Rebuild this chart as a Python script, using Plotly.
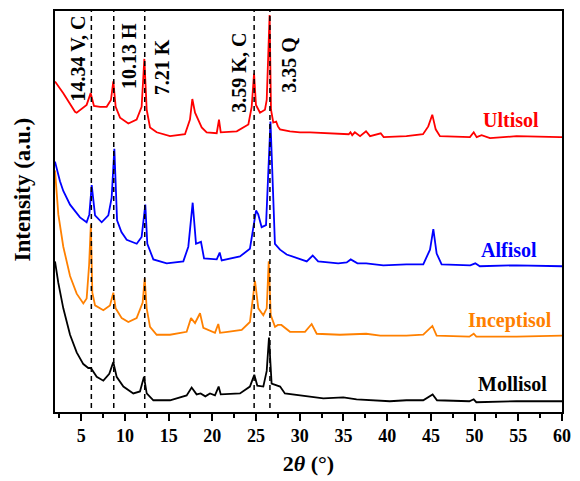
import math
import plotly.graph_objects as go

# ---------------- data ----------------
ultisol_x = [2.0, 2.95, 4.29, 4.48, 5.62, 6.08, 6.46, 7.15, 7.91, 8.4, 8.67, 8.94, 9.44, 10.39, 11.34, 11.91,
             12.22, 12.49, 12.87, 13.63, 15.16, 16.87, 17.44, 17.71, 18.02, 18.4, 18.78, 19.35, 20.5, 20.76,
             20.96, 22.79, 24.12, 24.5, 24.77, 24.99, 25.45, 26.02, 26.22, 26.55, 26.71, 26.97, 27.3, 27.5,
             27.74, 28.88, 30.03, 31.17, 35.6, 35.8, 36.0, 36.3, 36.9, 37.58, 38.04, 39.26, 39.6, 42.2, 44.1,
             44.7, 45.16, 45.55, 46.04, 49.47, 49.9, 50.24, 50.8, 51.76, 54.8, 59.77, 60.0]
ultisol_y = [338, 326, 307, 306, 314, 326, 313, 312, 312, 319, 338, 312, 301, 295, 299, 312,
             361, 309, 291, 286, 282, 284, 299, 320, 306, 299, 291, 286, 285, 299,
             286, 287, 294, 312, 346, 314, 306, 309, 319, 406, 309, 296, 297, 292,
             289, 287, 286, 286, 284, 286, 283, 286, 282, 287, 282, 285, 281, 282, 284,
             292, 304, 289, 282, 281, 286, 281, 283, 280, 282, 281, 281]

alfisol_x = [2.0, 2.57, 2.95, 3.72, 4.86, 5.62, 5.93, 6.2, 6.58, 7.34, 8.1, 8.48, 8.79, 8.95, 9.1, 9.6,
             10.2, 11.35, 11.91, 12.33, 12.56, 13.25, 14.78, 16.68, 17.25, 17.75, 18.13, 18.7, 19.05,
             20.5, 20.84, 21.07, 23.16, 24.3, 24.68, 25.0, 25.25, 25.64, 26.14, 26.65, 27.16, 27.74,
             28.5, 30.8, 31.48, 32.1, 34.4, 35.37, 35.83, 36.6, 37.6, 39.56, 42.2, 44.13, 44.9, 45.28,
             45.66, 46.23, 49.5, 50.08, 50.6, 54.8, 60.0]
alfisol_y = [256, 236, 226, 212, 199, 194, 202, 232, 201, 194, 201, 219, 269, 225, 196, 184,
             176, 172, 179, 212, 172, 156, 152, 154, 169, 214, 172, 174, 157,
             156, 163, 155, 159, 167, 189, 206, 202, 189, 191, 297, 172, 166,
             161, 154, 160, 154, 152, 153, 156, 152, 152, 150, 151, 151, 166, 187,
             162, 151, 150, 152, 149, 150, 149]

inceptisol_x = [2.0, 2.38, 2.95, 3.72, 4.48, 5.24, 5.62, 5.9, 6.1, 6.27, 6.58, 7.53, 8.29, 8.67, 8.94,
                9.63, 10.39, 11.34, 12.03, 12.26, 12.49, 12.87, 13.63, 15.16, 17.06, 17.56, 18.02, 18.59,
                18.97, 20.3, 20.68, 20.88, 21.74, 23.36, 24.3, 24.88, 25.26, 25.83, 26.22, 26.45, 26.68,
                27.17, 27.5, 27.9, 28.88, 30.6, 31.36, 31.94, 34.6, 36.3, 37.6, 39.2, 42.2, 44.13, 45.17,
                45.66, 49.4, 49.9, 50.2, 54.8, 60.0]
inceptisol_y = [247, 202, 169, 139, 121, 111, 116, 150, 192, 122, 109, 104, 109, 122, 106,
                96, 92, 96, 112, 137, 106, 87, 79, 79, 82, 96, 91, 101,
                86, 81, 90, 81, 82, 84, 92, 134, 106, 99, 106, 154, 99,
                87, 89, 89, 82, 82, 90, 80, 79, 80, 80, 78, 78, 79, 88,
                78, 77, 80, 77, 77, 78]

mollisol_x = [2.0, 2.38, 2.95, 3.72, 4.48, 5.24, 5.81, 6.1, 6.77, 7.53, 8.21, 8.67, 9.05, 9.82, 10.96,
              11.72, 12.18, 12.49, 13.25, 15.16, 17.06, 17.63, 18.2, 18.66, 19.2, 19.73, 20.3, 20.72,
              20.96, 23.16, 24.3, 24.8, 25.14, 25.83, 26.22, 26.48, 26.78, 27.3, 27.75, 28.3, 30.03,
              32.7, 34.98, 36.5, 40.3, 42.2, 44.13, 45.2, 45.7, 49.4, 49.9, 50.2, 54.8, 60.0]
mollisol_y = [154, 132, 106, 79, 61, 49, 45, 45, 36, 32, 39, 51, 36, 26, 19,
              21, 36, 19, 12, 12, 17, 25, 18, 19, 16, 19, 17, 26,
              18, 19, 26, 38, 27, 26, 42, 76, 29, 27, 26, 19, 17,
              14, 15, 13, 11, 12, 12, 18, 12, 11, 13, 10, 11, 11]

series_names = ["Ultisol", "Alfisol", "Inceptisol", "Mollisol"]
series_colors = ["#FF0000", "#0000FF", "#FF8000", "#000000"]

# d-spacings (Angstrom) of the marked reflections and their labels
d_spacings = [14.34, 10.13, 7.21, 3.59, 3.35]
d_labels = ["14.34 V, C", "10.13 H", "7.21 K", "3.59 K, C", "3.35 Q"]
wavelength = 1.5406  # Cu K-alpha

x_ticks = [5, 10, 15, 20, 25, 30, 35, 40, 45, 50, 55, 60]

# ---------------- figure ----------------
FONT = "Times New Roman, Liberation Serif, serif"
fig = go.Figure()

xs = [ultisol_x, alfisol_x, inceptisol_x, mollisol_x]
ys = [ultisol_y, alfisol_y, inceptisol_y, mollisol_y]
for name, col, x, y in zip(series_names, series_colors, xs, ys):
    fig.add_trace(go.Scatter(x=x, y=y, mode="lines", name=name,
                             line=dict(color=col, width=1.8), showlegend=False))

two_theta = [2 * math.degrees(math.asin(wavelength / (2 * d))) for d in d_spacings]
for tt in two_theta:
    fig.add_shape(type="line", xref="x", yref="paper", x0=tt, x1=tt, y0=0.01, y1=1,
                  line=dict(color="black", width=1.5, dash="5px,4px"), layer="above")

# rotated peak labels
label_pos = [(4.57, 362), (10.47, 364), (14.18, 353), (23.05, 347), (28.77, 355)]
for (lx, ly), txt in zip(label_pos, d_labels):
    fig.add_annotation(x=lx, y=ly, text="<b>%s</b>" % txt, textangle=-90, showarrow=False,
                       xanchor="center", yanchor="middle",
                       font=dict(family=FONT, size=20, color="black"))

# series labels
name_pos = [(57.6, 299), (57.4, 166), (59.1, 94), (58.5, 29)]
for (nx, ny), nm, col in zip(name_pos, series_names, series_colors):
    fig.add_annotation(x=nx, y=ny, text="<b>%s</b>" % nm, showarrow=False,
                       xanchor="right", yanchor="middle",
                       font=dict(family=FONT, size=20, color=col))

# y-axis title (placed as annotation to match the reference offset)
fig.add_annotation(xref="paper", yref="paper", x=-0.065, y=0.555,
                   text="<b>Intensity (a.u.)</b>", textangle=-90, showarrow=False,
                   xanchor="center", yanchor="middle",
                   font=dict(family=FONT, size=23, color="black"))

fig.update_layout(
    width=580, height=481,
    margin=dict(l=55, r=18, t=9, b=62),
    paper_bgcolor="white", plot_bgcolor="white",
    font=dict(family=FONT, color="black"),
)
fig.update_xaxes(
    range=[2, 60], tickmode="array", tickvals=x_ticks,
    ticktext=["<b>%d</b>" % v for v in x_ticks],
    ticks="outside", ticklen=7, tickwidth=1.5, tickcolor="black",
    minor=dict(ticks="outside", dtick=2.5, tick0=0, ticklen=4, tickwidth=1.5, tickcolor="black"),
    showline=True, linecolor="black", linewidth=1.5, mirror=True,
    showgrid=False, zeroline=False,
    tickfont=dict(family=FONT, size=18, color="black"),
    title=dict(text="<b>2<i>θ</i> (°)</b>", font=dict(family=FONT, size=22), standoff=10),
)
fig.update_yaxes(
    range=[0, 410], showticklabels=False, ticks="",
    showline=True, linecolor="black", linewidth=1.5, mirror=True,
    showgrid=False, zeroline=False,
)

fig.write_html("out.html")
